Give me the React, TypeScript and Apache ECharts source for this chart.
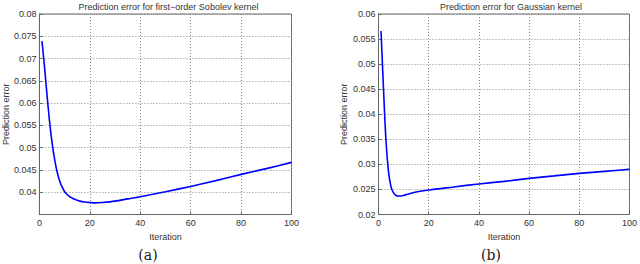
import React, { useEffect, useRef } from "react";
import * as echarts from "echarts";

const iterA = [1, 2, 3, 4, 5, 6, 7, 8, 9, 10, 11, 12, 13, 14, 15, 16, 18, 20, 22, 25, 30, 35, 40, 50, 60, 70, 80, 90, 100];
const errA = [0.0739, 0.0683, 0.0619, 0.056, 0.0512, 0.0475, 0.0446, 0.0426, 0.0412, 0.0401, 0.0395, 0.039, 0.0387, 0.0384, 0.0382, 0.038, 0.0378, 0.0377, 0.0376, 0.0377, 0.038, 0.0385, 0.039, 0.0401, 0.0413, 0.0426, 0.044, 0.0453, 0.0467];

const iterB = [1, 2, 3, 4, 5, 6, 7, 8, 9, 10, 12, 15, 20, 30, 40, 50, 60, 70, 80, 90, 100];
const errB = [0.0566, 0.045, 0.0345, 0.0285, 0.0255, 0.0243, 0.0238, 0.0237, 0.0237, 0.0238, 0.0241, 0.0245, 0.0249, 0.0255, 0.0261, 0.0266, 0.0272, 0.0277, 0.0282, 0.0286, 0.029];

const titleA = "Prediction error for first−order Sobolev kernel";
const titleB = "Prediction error for Gaussian kernel";
const xName = "Iteration";
const yName = "Prediction error";

const FONT = "Liberation Sans";
const TXT = "#333";
const AX = "#666";

function xAxis(gridIndex: number) {
  return {
    type: "value",
    gridIndex,
    min: 0,
    max: 100,
    interval: 20,
    name: xName,
    nameLocation: "middle",
    nameGap: 14,
    nameTextStyle: { fontFamily: FONT, fontSize: 9, color: TXT },
    axisLine: { show: true, lineStyle: { color: AX, width: 1 } },
    axisTick: { show: true, inside: true, length: 3, lineStyle: { color: AX } },
    axisLabel: { fontFamily: FONT, fontSize: 9, color: TXT, margin: 4 },
    splitLine: { show: true, lineStyle: { type: [1, 2], color: "#888", width: 1 } },
  };
}

function yAxis(gridIndex: number, min: number, max: number, nameGap: number, hideMin: boolean) {
  return {
    type: "value",
    gridIndex,
    min,
    max,
    interval: 0.005,
    name: yName,
    nameLocation: "middle",
    nameGap,
    nameTextStyle: { fontFamily: FONT, fontSize: 9, color: TXT },
    axisLine: { show: true, lineStyle: { color: AX, width: 1 } },
    axisTick: { show: true, inside: true, length: 3, lineStyle: { color: AX } },
    axisLabel: {
      fontFamily: FONT,
      fontSize: 9,
      color: TXT,
      margin: 3,
      showMinLabel: !hideMin,
      formatter: (v: number) => String(parseFloat(v.toFixed(4))),
    },
    splitLine: { show: true, lineStyle: { type: [1, 2], color: "#888", width: 1 } },
  };
}

export default function App() {
  const ref = useRef<HTMLDivElement>(null);
  useEffect(() => {
    if (!ref.current) return;
    const chart = echarts.init(ref.current, null, { renderer: "svg" });
    chart.setOption({
      animation: false,
      backgroundColor: "#fff",
      title: [
        {
          text: titleA,
          left: 163.5,
          top: -3,
          textAlign: "center",
          textStyle: { fontFamily: FONT, fontSize: 9, fontWeight: "normal", color: TXT },
        },
        {
          text: titleB,
          left: 506,
          top: -3,
          textAlign: "center",
          textStyle: { fontFamily: FONT, fontSize: 9, fontWeight: "normal", color: TXT },
        },
      ],
      grid: [
        { left: 36, right: 348.5, top: 14, bottom: 49.5, show: true, borderColor: AX, borderWidth: 1, backgroundColor: "transparent" },
        { left: 378.5, right: 6.5, top: 14, bottom: 49.5, show: true, borderColor: AX, borderWidth: 1, backgroundColor: "transparent" },
      ],
      xAxis: [xAxis(0), xAxis(1)],
      yAxis: [yAxis(0, 0.035, 0.08, 27, true), yAxis(1, 0.02, 0.06, 30, false)],
      series: [
        {
          type: "line",
          xAxisIndex: 0,
          yAxisIndex: 0,
          data: iterA.map((x, i) => [x, errA[i]]),
          smooth: 0.3,
          showSymbol: false,
          lineStyle: { color: "#0000ff", width: 1.6 },
        },
        {
          type: "line",
          xAxisIndex: 1,
          yAxisIndex: 1,
          data: iterB.map((x, i) => [x, errB[i]]),
          smooth: 0.3,
          showSymbol: false,
          lineStyle: { color: "#0000ff", width: 1.6 },
        },
      ],
      graphic: [
        {
          type: "text",
          x: 148,
          y: 255,
          style: { text: "(a)", font: "14px 'DejaVu Serif', serif", fill: "#222", align: "center", verticalAlign: "middle" },
        },
        {
          type: "text",
          x: 491,
          y: 255,
          style: { text: "(b)", font: "14px 'DejaVu Serif', serif", fill: "#222", align: "center", verticalAlign: "middle" },
        },
      ],
    });
    return () => chart.dispose();
  }, []);
  return <div ref={ref} style={{ position: "fixed", left: 0, top: 0, width: 640, height: 264 }} />;
}
